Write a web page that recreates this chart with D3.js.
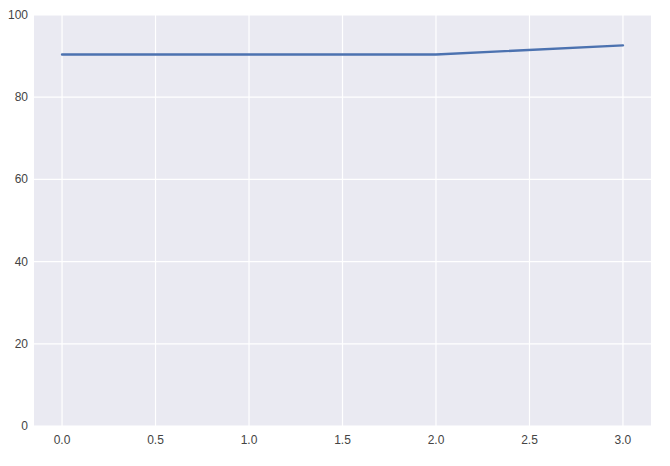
<!DOCTYPE html>
<html>
	<head>
		<script type="text/javascript" src="https://cdn.jsdelivr.net/npm/d3@7"></script>
		<style>
body {
	margin: 0;
	background-color: white;
}

text.tick {
	font-family: "Liberation Sans Narrow", "Liberation Sans", Arial, sans-serif;
	font-size: 12px;
	fill: #444;
}
		</style>
	</head>
	<body>
		<script>

var xs = [0, 1, 2, 3];
var ys = [90.4, 90.4, 90.4, 92.6];
var xTicks = [0, 0.5, 1, 1.5, 2, 2.5, 3];
var yTicks = [0, 20, 40, 60, 80, 100];

var w = 670;
var h = 466;

// plot area (window.top is reserved, so use other names)
var pLeft = 34, pRight = 651, pTop = 15, pBottom = 426;

var svg = d3.select("body").append("svg")
	.attr("width", w)
	.attr("height", h);

var x = d3.scaleLinear().domain([-0.15, 3.15]).range([pLeft, pRight]);
var y = d3.scaleLinear().domain([0, 100]).range([pBottom, pTop]);

svg.append("rect")
	.attr("x", pLeft)
	.attr("y", pTop)
	.attr("width", pRight - pLeft)
	.attr("height", pBottom - pTop)
	.style("fill", "#EAEAF2");

// grid
svg.selectAll("line.vgrid").data(xTicks).enter().append("line")
	.attr("x1", function(d) { return x(d); })
	.attr("x2", function(d) { return x(d); })
	.attr("y1", pTop)
	.attr("y2", pBottom)
	.style("stroke", "white")
	.style("stroke-width", 1.2);

svg.selectAll("line.hgrid").data(yTicks).enter().append("line")
	.attr("x1", pLeft)
	.attr("x2", pRight)
	.attr("y1", function(d) { return y(d); })
	.attr("y2", function(d) { return y(d); })
	.style("stroke", "white")
	.style("stroke-width", 1.2);

// tick labels
svg.selectAll("text.xt").data(xTicks).enter().append("text")
	.attr("class", "tick")
	.attr("x", function(d) { return x(d); })
	.attr("y", pBottom + 18)
	.attr("text-anchor", "middle")
	.text(function(d) { return d.toFixed(1); });

svg.selectAll("text.yt").data(yTicks).enter().append("text")
	.attr("class", "tick")
	.attr("x", pLeft - 6)
	.attr("y", function(d) { return y(d) + 4; })
	.attr("text-anchor", "end")
	.text(function(d) { return d; });

var line = d3.line()
	.x(function(d, i) { return x(xs[i]); })
	.y(function(d) { return y(d); });

svg.append("path")
	.datum(ys)
	.attr("d", line)
	.style("fill", "none")
	.style("stroke", "#4C72B0")
	.style("stroke-width", 2.4)
	.style("stroke-linecap", "round");

		</script>
	</body>
</html>
